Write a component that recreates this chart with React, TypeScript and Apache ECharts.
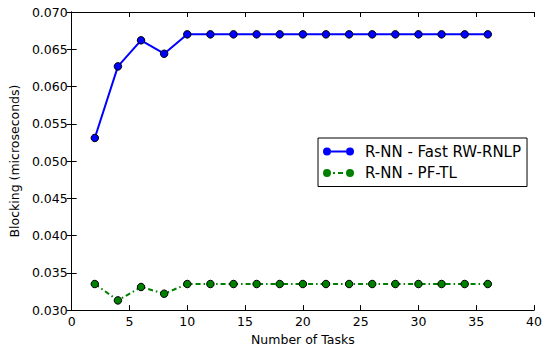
import React, { useEffect, useRef } from "react";
import * as echarts from "echarts";

const tasks = [2, 4, 6, 8, 10, 12, 14, 16, 18, 20, 22, 24, 26, 28, 30, 32, 34, 36];
const fastRwRnlp = [0.0531, 0.0627, 0.0662, 0.0644, 0.067, 0.067, 0.067, 0.067, 0.067, 0.067, 0.067, 0.067, 0.067, 0.067, 0.067, 0.067, 0.067, 0.067];
const pfTl = [0.0335, 0.0313, 0.0331, 0.0322, 0.0335, 0.0335, 0.0335, 0.0335, 0.0335, 0.0335, 0.0335, 0.0335, 0.0335, 0.0335, 0.0335, 0.0335, 0.0335, 0.0335];
const seriesNames = ["R-NN - Fast RW-RNLP", "R-NN - PF-TL"];

const FONT = "DejaVu Sans";
const circL = "M0,4a4,4 0 1,0 8,0a4,4 0 1,0 -8,0Z";
const circR = "M23,4a4,4 0 1,0 8,0a4,4 0 1,0 -8,0Z";
const solidIcon = "path://" + circL + "M8,3L23,3L23,5L8,5Z" + circR;
const dashDotIcon = "path://" + circL + "M10,3L12,3L12,5L10,5ZM15,3L20,3L20,5L15,5Z" + circR;

export default function App() {
  const ref = useRef<HTMLDivElement>(null);
  useEffect(() => {
    if (!ref.current) return;
    const chart = echarts.init(ref.current, undefined, { renderer: "svg" });
    const axisCommon = {
      axisLine: { show: true, lineStyle: { color: "#000", width: 1 } },
      axisTick: { show: true, inside: true, length: 5, lineStyle: { color: "#000" } },
      splitLine: { show: false },
    };
    const labelFont = { fontFamily: FONT, fontSize: 12.5, color: "#000" };
    chart.setOption({
      animation: false,
      backgroundColor: "#fff",
      textStyle: { fontFamily: FONT },
      grid: { left: 68, right: 9, top: 12, bottom: 37, containLabel: false },
      xAxis: [
        {
          type: "value",
          min: 0,
          max: 40,
          interval: 5,
          position: "bottom",
          name: "Number of Tasks",
          nameLocation: "middle",
          nameGap: 20,
          nameTextStyle: labelFont,
          axisLabel: { ...labelFont, margin: 5 },
          ...axisCommon,
        },
        {
          type: "value",
          min: 0,
          max: 40,
          interval: 5,
          position: "top",
          axisLabel: { show: false },
          ...axisCommon,
        },
      ],
      yAxis: [
        {
          type: "value",
          min: 0.03,
          max: 0.07,
          interval: 0.005,
          position: "left",
          name: "Blocking (microseconds)",
          nameLocation: "middle",
          nameGap: 45,
          nameTextStyle: labelFont,
          axisLabel: {
            ...labelFont,
            margin: 4,
            formatter: (v: number) => v.toFixed(3),
          },
          ...axisCommon,
        },
        {
          type: "value",
          min: 0.03,
          max: 0.07,
          interval: 0.005,
          position: "right",
          axisLabel: { show: false },
          ...axisCommon,
        },
      ],
      legend: {
        orient: "vertical",
        left: 318,
        top: 138,
        padding: [6, 6, 6, 5],
        itemGap: 6.5,
        itemWidth: 31,
        itemHeight: 8,
        borderColor: "#000",
        borderWidth: 1,
        borderRadius: 0,
        backgroundColor: "#fff",
        textStyle: { fontFamily: FONT, fontSize: 15, color: "#000", padding: [0, 0, 0, 6] },
        data: [
          { name: seriesNames[0], icon: solidIcon, itemStyle: { color: "#0000ff", borderWidth: 0 } },
          { name: seriesNames[1], icon: dashDotIcon, itemStyle: { color: "#008000", borderWidth: 0 } },
        ],
      },
      series: [
        {
          name: seriesNames[0],
          type: "line",
          data: tasks.map((t, i) => [t, fastRwRnlp[i]]),
          symbol: "circle",
          symbolSize: 7.5,
          lineStyle: { color: "#0000ff", width: 2 },
          itemStyle: { color: "#0000ff", borderColor: "#000", borderWidth: 1 },
          z: 3,
        },
        {
          name: seriesNames[1],
          type: "line",
          data: tasks.map((t, i) => [t, pfTl[i]]),
          symbol: "circle",
          symbolSize: 7.5,
          lineStyle: { color: "#008000", width: 2, type: [5, 3, 1.5, 3] },
          itemStyle: { color: "#008000", borderColor: "#000", borderWidth: 1 },
          z: 3,
        },
      ],
    });
    return () => chart.dispose();
  }, []);
  return <div ref={ref} style={{ width: 545, height: 351, position: "absolute", left: 0, top: 0 }} />;
}
